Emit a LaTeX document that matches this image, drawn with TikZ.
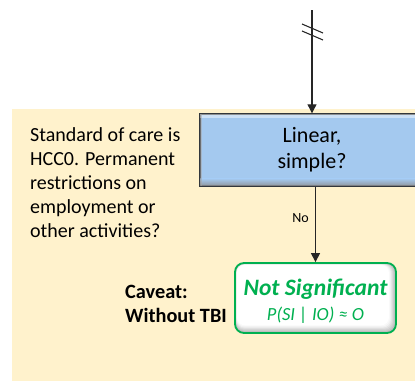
\documentclass[tikz,border=0pt]{standalone}
\usepackage{fontspec}
\setmainfont{Carlito}
\usetikzlibrary{arrows.meta,calc}
\definecolor{panel}{RGB}{255,242,204}
\definecolor{boxblue}{RGB}{164,201,239}
\definecolor{sig}{RGB}{0,176,80}
\definecolor{edge}{RGB}{50,55,60}
\begin{document}
\begin{tikzpicture}[x=1pt,y=-1pt,
  arr/.style={-{Triangle[width=9pt,length=9pt]}, line width=1.1pt, black!85},
  note/.style={align=left, inner sep=0pt, anchor=base west,
    font=\fontsize{20}{24}\selectfont},
  question/.style={draw=edge, line width=1.4pt, fill=boxblue, align=center,
    minimum width=224pt, minimum height=72pt, inner sep=0pt,
    font=\fontsize{22}{26}\selectfont},
  outcome/.style={draw=sig, line width=1.8pt, rounded corners=9pt, align=center,
    minimum width=161pt, minimum height=70pt, inner sep=0pt, text=sig,
    font=\fontsize{23.5}{25}\selectfont\bfseries\itshape}]
\useasboundingbox (0,0) rectangle (415,381);
\clip (0,0) rectangle (415,381);

% background panel
\fill[panel] (12,109) rectangle (415,381);

% decision box with bevelled edges
\node[question] (q) at (312,150) {Linear,\\simple?};
\fill[white, opacity=0.45] ($(q.north west)+(1,1)$) rectangle ($(q.north east)+(-1,5)$);
\shade[top color=boxblue, bottom color=black!45, opacity=0.8]
  ($(q.south west)+(1,-8)$) rectangle ($(q.south east)+(-1,-1)$);
\fill[black!35, opacity=0.5] ($(q.north west)+(1,1)$) rectangle ($(q.south west)+(3,-1)$);

% outcome box with inner shadow
\fill[gray!60, rounded corners=9pt] (235,263) rectangle (396,333);
\foreach \i/\c in {1/50,2/40,3/30,4/20,5/11,6/5,7/0}
  \fill[gray!\c!white, rounded corners=8pt] (235.5+0.2*\i,263.5+0.2*\i) rectangle (396-\i,333-1.1*\i);
\node[outcome] (r) at (315.5,298) {\rule{0pt}{23.5pt}Not Significant\\
  {\fontsize{18.5}{20}\selectfont\mdseries\itshape P(SI | IO) ≈ O}};

% incoming connector with break marks
\coordinate (start) at (312,10);
\draw[arr] (start) -- (q.north);
\draw[line width=1.1pt, black!85] (302,24) -- (323,33);
\draw[line width=1.1pt, black!85] (302,31) -- (323,40);

% answer connector
\draw[arr] (q.south -| r.north) -- (r.north);
\node[anchor=base east, inner sep=0pt, font=\fontsize{14}{16}\selectfont] (no) at (309,222) {No};

% side notes
\node[note] (care) at (30,237) {Standard of care is\\HCC0. Permanent\\restrictions on\\employment or\\other activities?};
\node[note, font=\fontsize{20.3}{24}\selectfont\bfseries] (caveat) at (125,322) {Caveat:\\Without TBI};
\end{tikzpicture}
\end{document}
